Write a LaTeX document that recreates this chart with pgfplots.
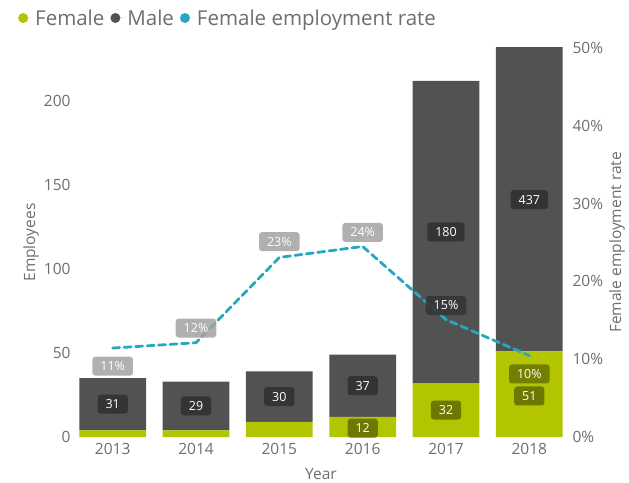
\documentclass[border=0pt]{standalone}
\usepackage{pgfplots}
\pgfplotsset{compat=1.18}
\usepackage{fontspec}
\setmainfont{Open Sans}
\definecolor{fem}{RGB}{178,197,0}
\definecolor{mal}{RGB}{82,82,82}
\definecolor{rate}{RGB}{40,167,192}
\definecolor{txt}{RGB}{110,110,110}
\definecolor{boxdark}{RGB}{52,52,52}
\definecolor{boxolive}{RGB}{108,120,0}
\definecolor{boxgray}{RGB}{162,162,162}

\pgfplotsset{
  base/.style={scale only axis, width=500bp, height=389bp,
    xmin=-0.5, xmax=5.5, axis line style={draw=none}, major tick length=0pt,
    /pgf/number format/assume math mode=true,
    tick label style={font=\fontsize{15.5bp}{18bp}\selectfont, text=txt},
    label style={font=\fontsize{15.5bp}{18bp}\selectfont, text=txt}},
  lbl/.style={draw=none, mark=none, forget plot, nodes near coords={#1},
    every node near coord/.append style={anchor=center, text=white,
      font=\fontsize{12.5bp}{14bp}\selectfont, rounded corners=3bp,
      inner xsep=8bp, inner ysep=2bp, minimum height=19bp}},
}

\begin{document}
\begin{tikzpicture}
% bars, left axis
\begin{axis}[base, name=main, ybar stacked, bar width=66.7bp,
  ymin=0, ymax=231.5, ytick={0,50,100,150,200},
  yticklabel style={xshift=3bp},
  xtick={0,...,5}, xticklabels={2013,2014,2015,2016,2017,2018},
  xticklabel style={yshift=-3bp},
  xlabel={Year}, ylabel={Employees},
  xlabel style={at={(axis description cs:0.5,-0.095)}, anchor=center},
  ylabel style={at={(axis description cs:-0.08,0.5)}, anchor=center},
  legend columns=3,
  legend image code/.code={\fill[#1] (0,0) circle (5bp); \path (-5bp,0) -- (10bp,0);},
  legend style={draw=none, fill=none, at={(axis description cs:0,1)},
    anchor=west, xshift=-56bp, yshift=30bp,
    font=\fontsize{20.5bp}{23bp}\selectfont, text=txt,
    /tikz/every even column/.append style={column sep=4bp}},
]
\addplot[fill=fem, draw=none] coordinates {(0,4) (1,4) (2,9) (3,12) (4,32) (5,51)};
\addplot[fill=mal, draw=none] coordinates {(0,31) (1,29) (2,30) (3,37) (4,180) (5,437)};
\addlegendimage{fill=rate, draw=none}
\legend{Female, Male, Female employment rate}
\end{axis}

% count labels, same scale
\begin{axis}[base, hide axis, ymin=0, ymax=231.5]
\addplot[lbl={\pgfmathprintnumber{\pgfplotspointmeta}},
  every node near coord/.append style={fill=boxdark}, point meta=explicit]
  coordinates {(0,19.5) [31] (1,18.5) [29] (2,24) [30] (3,30.5) [37] (4,122) [180] (5,141.25) [437]};
\addplot[lbl={\pgfmathprintnumber{\pgfplotspointmeta}},
  every node near coord/.append style={fill=boxolive}, point meta=explicit]
  coordinates {(3,5.3) [12] (4,16) [32] (5,24.4) [51]};
\end{axis}

% rate line, right axis
\begin{axis}[base, ymin=0, ymax=50, axis y line*=right, hide x axis,
  ytick={0,10,...,50}, yticklabel={\pgfmathprintnumber{\tick}\%},
  yticklabel style={xshift=-2bp},
  ylabel={Female employment rate},
  ylabel style={at={(axis description cs:1.092,0.5)}, anchor=center},
]
\addplot[rate, line width=2.8bp, dash pattern=on 7bp off 4.5bp, line cap=round]
  coordinates {(0,11.43) (1,12.12) (2,23.08) (3,24.49) (4,15.09) (5,10.45)};
\addplot[lbl={\pgfmathprintnumber{\pgfplotspointmeta}\%},
  every node near coord/.append style={fill=boxgray, fill opacity=0.85, text opacity=1}, point meta=explicit]
  coordinates {(0,9.1) [11] (1,14.0) [12] (2,25.1) [23] (3,26.3) [24]};
\addplot[lbl={\pgfmathprintnumber{\pgfplotspointmeta}\%},
  every node near coord/.append style={fill=boxdark, fill opacity=0.85, text opacity=1}, point meta=explicit]
  coordinates {(4,16.9) [15]};
\addplot[lbl={\pgfmathprintnumber{\pgfplotspointmeta}\%},
  every node near coord/.append style={fill=boxolive, fill opacity=0.9, text opacity=1}, point meta=explicit]
  coordinates {(5,8.1) [10]};
\end{axis}
\pgfresetboundingbox
\path ([xshift=-71bp,yshift=-46bp]main.south west) rectangle ([xshift=58bp,yshift=48bp]main.north east);
\end{tikzpicture}
\end{document}
